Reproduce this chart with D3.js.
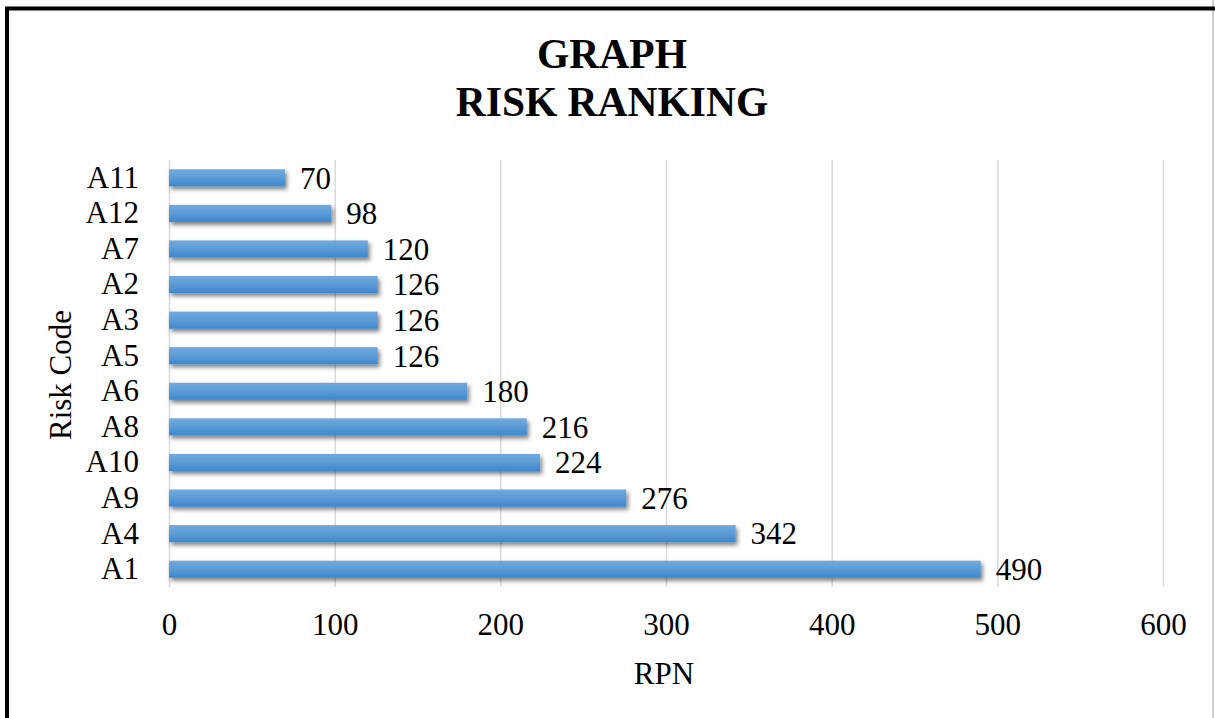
<!DOCTYPE html>
<html>
<head>
<meta charset="utf-8">
<script src="https://cdn.jsdelivr.net/npm/d3@7"></script>
<style>
  html, body { margin: 0; padding: 0; background: #fff; }
  svg { display: block; }
  text { font-family: "Liberation Serif", "Times New Roman", serif; fill: #000; }
</style>
</head>
<body>
<svg id="chart" width="1215" height="718"></svg>
<script>
const categories = ["A11", "A12", "A7", "A2", "A3", "A5", "A6", "A8", "A10", "A9", "A4", "A1"];
const rpnValues  = [70, 98, 120, 126, 126, 126, 180, 216, 224, 276, 342, 490];
const xTicks     = [0, 100, 200, 300, 400, 500, 600];
const titleLines = ["GRAPH", "RISK RANKING"];
const xTitle = "RPN";
const yTitle = "Risk Code";

const svg = d3.select("#chart");
const W = 1215, H = 718;
const plot = { left: 169, right: 1163, top: 160, bottom: 587 };

// background & frame
svg.append("rect").attr("x", 0).attr("y", 0).attr("width", W).attr("height", H).attr("fill", "#fff");
svg.append("line").attr("x1", 1213).attr("x2", 1213).attr("y1", 0).attr("y2", H)
  .attr("stroke", "#d0d0d0").attr("stroke-width", 2);
svg.append("rect").attr("x", 7).attr("y", 8.5).attr("width", W + 20).attr("height", H + 20)
  .attr("fill", "none").attr("stroke", "#000").attr("stroke-width", 4);

const defs = svg.append("defs");
const grad = defs.append("linearGradient").attr("id", "barGrad")
  .attr("x1", 0).attr("y1", 0).attr("x2", 0).attr("y2", 1);
grad.append("stop").attr("offset", "0%").attr("stop-color", "#6eaae0");
grad.append("stop").attr("offset", "50%").attr("stop-color", "#5b9bd5");
grad.append("stop").attr("offset", "100%").attr("stop-color", "#3f86cc");
const filt = defs.append("filter").attr("id", "shadow")
  .attr("x", "-5%").attr("y", "-50%").attr("width", "115%").attr("height", "250%");
filt.append("feDropShadow").attr("dx", 2).attr("dy", 3).attr("stdDeviation", 2.2)
  .attr("flood-color", "#000").attr("flood-opacity", 0.5);

const x = d3.scaleLinear().domain([0, 600]).range([plot.left, plot.right]);
const y = d3.scaleBand().domain(categories).range([plot.top, plot.bottom])
  .paddingInner(0.52).paddingOuter(0.26);

// x axis with gridlines
const xAxis = svg.append("g").attr("transform", `translate(0,${plot.bottom})`)
  .call(d3.axisBottom(x).tickValues(xTicks).tickFormat(d3.format("d"))
    .tickSizeInner(-(plot.bottom - plot.top)).tickSizeOuter(0).tickPadding(26));
xAxis.select(".domain").remove();
xAxis.selectAll(".tick line").attr("stroke", "#d9d9d9").attr("stroke-width", 1.5);
xAxis.selectAll(".tick text").attr("font-size", 31).attr("font-family", "Liberation Serif").attr("fill", "#000");

// y axis
const yAxis = svg.append("g").attr("transform", `translate(${plot.left},0)`)
  .call(d3.axisLeft(y).tickSize(0).tickPadding(30));
yAxis.select(".domain").remove();
yAxis.selectAll(".tick text").attr("font-size", 31).attr("font-family", "Liberation Serif").attr("fill", "#000");

// bars
svg.append("g").selectAll("rect").data(categories).join("rect")
  .attr("x", x(0))
  .attr("y", d => y(d))
  .attr("width", (d, i) => x(rpnValues[i]) - x(0))
  .attr("height", y.bandwidth())
  .attr("fill", "url(#barGrad)")
  .attr("filter", "url(#shadow)");

// value labels
svg.append("g").selectAll("text").data(categories).join("text")
  .attr("x", (d, i) => x(rpnValues[i]) + 15)
  .attr("y", d => y(d) + y.bandwidth() / 2)
  .attr("dy", "0.35em")
  .attr("font-size", 31)
  .text((d, i) => rpnValues[i]);

// titles
svg.append("g").selectAll("text").data(titleLines).join("text")
  .attr("x", 612).attr("y", (d, i) => 68 + i * 48)
  .attr("text-anchor", "middle").attr("font-size", 41.5).attr("font-weight", "bold")
  .text(d => d);

svg.append("text").attr("x", 664).attr("y", 684).attr("text-anchor", "middle")
  .attr("font-size", 31).text(xTitle);

svg.append("text").attr("transform", "translate(71,375) rotate(-90)")
  .attr("text-anchor", "middle").attr("font-size", 31).text(yTitle);
</script>
</body>
</html>
